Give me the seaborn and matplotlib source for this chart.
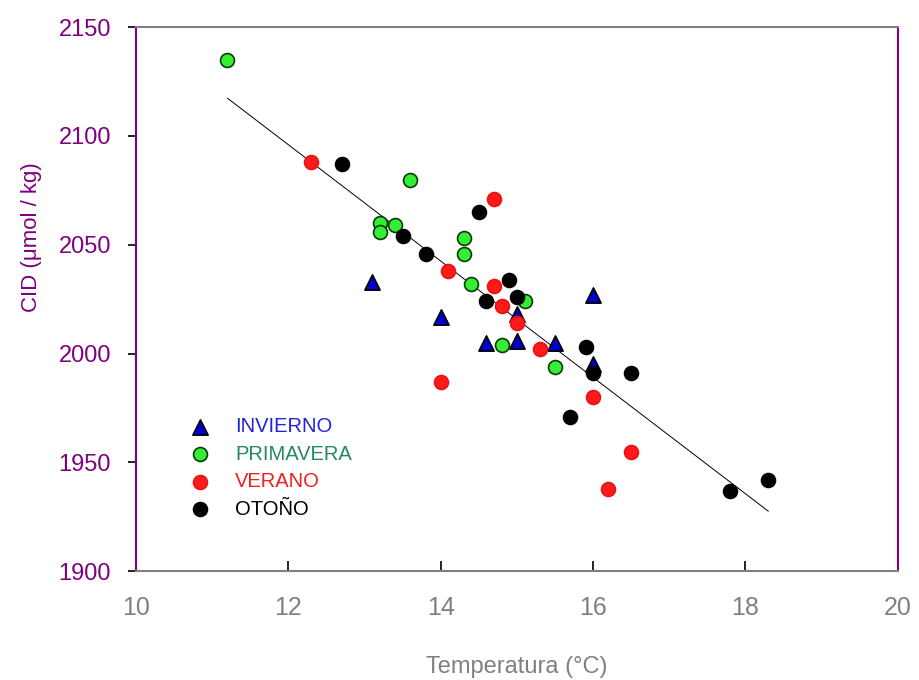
import pandas as pd
import seaborn as sns
import matplotlib.pyplot as plt
import numpy as np

# Season data
inv_temp = [13.1, 14.0, 14.6, 15.0, 15.0, 15.5, 16.0, 16.0]
inv_cid = [2033, 2017, 2005, 2018, 2006, 2005, 2027, 1995]

pri_temp = [11.2, 13.6, 13.2, 13.2, 13.4, 14.3, 14.3, 14.4, 15.1, 14.8, 15.5]
pri_cid = [2135, 2080, 2060, 2056, 2059, 2053, 2046, 2032, 2024, 2004, 1994]

ver_temp = [12.3, 14.7, 14.1, 14.7, 14.8, 15.0, 15.3, 14.0, 16.0, 16.5, 16.2]
ver_cid = [2088, 2071, 2038, 2031, 2022, 2014, 2002, 1987, 1980, 1955, 1938]

oto_temp = [12.7, 13.5, 13.8, 14.5, 14.9, 14.6, 15.0, 15.9, 16.0, 16.5, 15.7, 17.8, 18.3]
oto_cid = [2087, 2054, 2046, 2065, 2034, 2024, 2026, 2003, 1991, 1991, 1971, 1937, 1942]

seasons = ['INVIERNO', 'PRIMAVERA', 'VERANO', 'OTOÑO']
x_ticks = [10, 12, 14, 16, 18, 20]
y_ticks = [1900, 1950, 2000, 2050, 2100, 2150]

frames = []
for name, t, c in zip(seasons,
                      [inv_temp, pri_temp, ver_temp, oto_temp],
                      [inv_cid, pri_cid, ver_cid, oto_cid]):
    frames.append(pd.DataFrame({'Temperatura': t, 'CID': c, 'Estacion': name}))
data = pd.concat(frames, ignore_index=True)

sns.set_style('white')
plt.rcParams['font.family'] = ['Liberation Sans', 'DejaVu Sans']

purple = '#800080'
grey = '#808080'

# marker style per season: (marker, face, edge, size, text colour)
styles = {
    'INVIERNO': ('^', '#0000CC', 'black', 120, '#2222DD'),
    'PRIMAVERA': ('o', '#33EE33', '#0A3A0A', 100, '#238A5C'),
    'VERANO': ('o', '#FF1A1A', '#EE1111', 100, '#EE2020'),
    'OTOÑO': ('o', 'black', 'black', 100, 'black'),
}

fig, ax = plt.subplots(figsize=(9.19, 6.8), dpi=100)
fig.subplots_adjust(left=0.148, right=0.977, bottom=0.160, top=0.960)

# regression line over all points
sns.regplot(data=data, x='Temperatura', y='CID', scatter=False, ci=None,
            truncate=True, color='black', line_kws={'linewidth': 0.7}, ax=ax)

for name in seasons:
    m, fc, ec, s, _ = styles[name]
    sub = data[data['Estacion'] == name]
    sns.scatterplot(data=sub, x='Temperatura', y='CID', marker=m, color=fc,
                    edgecolor=ec, linewidth=1.2, s=s, label=name, ax=ax, zorder=3)

ax.set_xlim(10, 20)
ax.set_ylim(1900, 2150)
ax.set_xticks(x_ticks)
ax.set_yticks(y_ticks)
ax.set_xticklabels([str(v) for v in x_ticks], fontsize=18, color=grey)
ax.set_yticklabels([str(v) for v in y_ticks], fontsize=17, color=purple)
ax.set_xlabel('Temperatura (°C)', fontsize=17, color=grey)
ax.set_ylabel('CID (μmol / kg)', fontsize=16, color=purple)
ax.xaxis.set_label_coords(0.5, -0.155)
ax.yaxis.set_label_coords(-0.124, 0.614)

ax.tick_params(axis='x', bottom=True, direction='in', length=7, width=1.2,
               color='black', pad=18)
ax.tick_params(axis='y', left=True, direction='out', length=6, width=1.2,
               color='black', pad=12)

for side in ['left', 'right']:
    ax.spines[side].set_color(purple)
    ax.spines[side].set_linewidth(1.5)
for side in ['top', 'bottom']:
    ax.spines[side].set_color(grey)
    ax.spines[side].set_linewidth(1.5)

leg = ax.legend(loc='upper left', bbox_to_anchor=(0.06, 0.298), frameon=False,
                fontsize=14.5, handletextpad=1.25, labelspacing=0.42,
                handlelength=1.0, borderaxespad=0)
for txt, name in zip(leg.get_texts(), seasons):
    txt.set_color(styles[name][4])

plt.savefig('out.png', dpi=100)
